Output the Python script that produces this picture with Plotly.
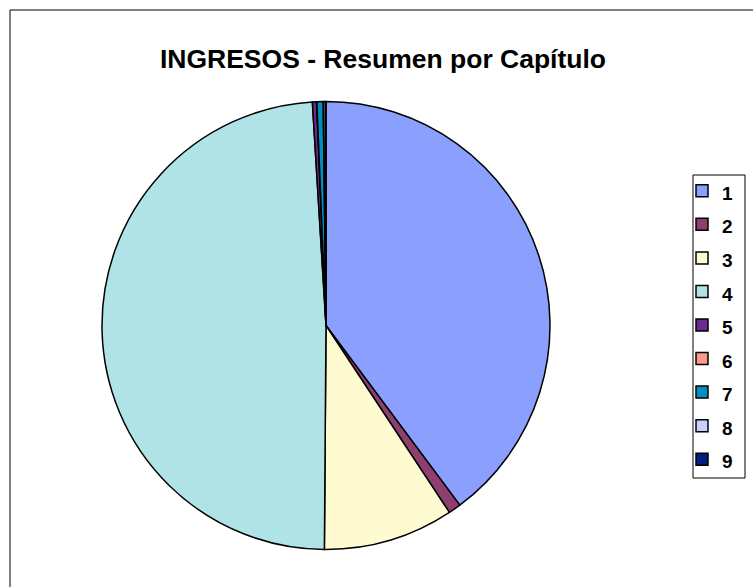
import plotly.graph_objects as go

capitulos = ["1", "2", "3", "4", "5", "6", "7", "8", "9"]
porcentajes = [39.8, 0.9, 9.4, 48.9, 0.3, 0.02, 0.45, 0.15, 0.05]
colores = ["#8B9FFF", "#8F3F6F", "#FFFBD0", "#B0E3E6", "#6B2C8F",
           "#FF9A8A", "#0090C0", "#C8D0FF", "#002080"]
titulo = "INGRESOS - Resumen por Capítulo"

W, H = 753, 587
etiquetas = [f"<span style='font-size:19px'><b>{c}</b></span>" for c in capitulos]

fig = go.Figure(go.Pie(
    labels=etiquetas,
    values=porcentajes,
    sort=False,
    direction="clockwise",
    rotation=0,
    textinfo="none",
    hoverinfo="label+percent",
    marker=dict(colors=colores, line=dict(color="black", width=1.5)),
    domain=dict(x=[102 / W, 550 / W], y=[1 - 550 / H, 1 - 101 / H]),
))

fig.update_layout(
    width=W, height=H,
    margin=dict(l=0, r=0, t=0, b=0),
    paper_bgcolor="white",
    font=dict(family="Liberation Sans, Arial", color="black"),
    title=dict(text=f"<b>{titulo}</b>", x=383 / W, xanchor="center",
               y=1 - 59 / H, yanchor="middle",
               font=dict(size=26.5, family="Liberation Sans, Arial")),
    legend=dict(x=682 / W, xanchor="left", y=1 - 169 / H, yanchor="top",
                bgcolor="rgba(0,0,0,0)", borderwidth=0,
                font=dict(size=23.5), itemwidth=30, tracegroupgap=0),
    shapes=[
        dict(type="rect", xref="paper", yref="paper",
             x0=10 / W, x1=1.2, y0=-0.2, y1=1 - 10 / H,
             line=dict(color="black", width=1), layer="below"),
        dict(type="rect", xref="paper", yref="paper",
             x0=693 / W, x1=745 / W, y0=1 - 478 / H, y1=1 - 175 / H,
             fillcolor="white", line=dict(color="black", width=1), layer="below"),
    ],
)

fig.write_html("out.html", config={"displayModeBar": False},
               post_script="document.body.style.margin='0';")
